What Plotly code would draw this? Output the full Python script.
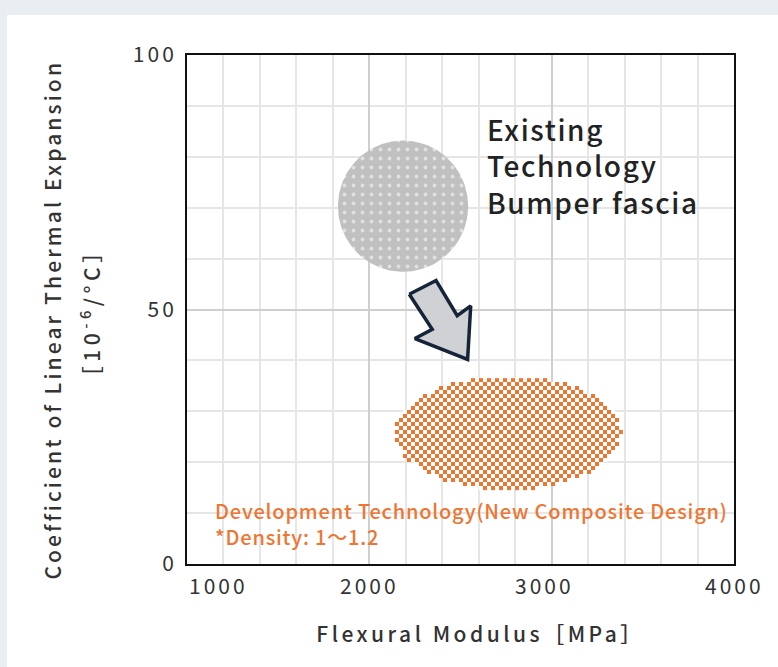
import json
import numpy as np
import plotly.graph_objects as go

# ---------------- data ----------------
x_range = [1000, 4000]
y_range = [0, 100]
x_tick_vals = [1000, 2000, 3000, 4000]
x_tick_text = ["1000", "2000", "3000", "4000"]
y_tick_vals = [0, 50, 100]
y_tick_text = ["0", "50", "100"]

# existing technology region (centre, half-widths)
existing_center = (2185, 70.3)
existing_radius = (357, 12.9)

# development technology region (centre, half-widths)
dev_center = (2760, 25.7)
dev_radius = (620, 11.2)

# arrow outline (MPa, 10^-6/°C)
arrow_x = [2219, 2366, 2482, 2556, 2539, 2250, 2345, 2219]
arrow_y = [53.0, 55.7, 48.8, 50.7, 40.2, 44.3, 46.1, 53.0]

existing_label = "Existing<br>Technology<br>Bumper fascia"
dev_label = "Development Technology(New Composite Design)<br>*Density: 1〜1.2"
x_title = "Flexural Modulus［MPa］"
y_title_1 = "Coefficient of Linear Thermal Expansion"
y_title_2 = "［10<sup>-6</sup>/°C］"

# ---------------- style ----------------
FONT = "Noto Sans CJK JP"
ORANGE = "#ef7532"
GRAY = "#c0c0c0"
TEXT = "#333333"
checker_dx = 21.9   # MPa per checker cell
checker_dy = 0.786  # units per checker cell

fig = go.Figure()

# gray dotted circle
t = np.linspace(0, 2 * np.pi, 181)
fig.add_trace(go.Scatter(
    x=existing_center[0] + existing_radius[0] * np.cos(t),
    y=existing_center[1] + existing_radius[1] * np.sin(t),
    mode="lines", fill="toself", line=dict(width=0, color="rgba(0,0,0,0)"),
    fillcolor=GRAY,
    fillpattern=dict(shape=".", bgcolor=GRAY, fgcolor="#ffffff", size=9, solidity=0.14),
    hoverinfo="skip", showlegend=False))

# orange checkerboard ellipse (heatmap texture)
nx = int(round(2 * dev_radius[0] / checker_dx))
ny = int(round(2 * dev_radius[1] / checker_dy))
xs = dev_center[0] - dev_radius[0] + checker_dx * (np.arange(nx) + 0.5)
ys = dev_center[1] - dev_radius[1] + checker_dy * (np.arange(ny) + 0.5)
XX, YY = np.meshgrid(xs, ys)
II, JJ = np.meshgrid(np.arange(nx), np.arange(ny))
inside = ((XX - dev_center[0]) / dev_radius[0]) ** 2 + ((YY - dev_center[1]) / dev_radius[1]) ** 2 <= 1
z = np.where(inside, ((II + JJ) % 2 == 0).astype(float), np.nan)
fig.add_trace(go.Heatmap(
    x=xs, y=ys, z=z, zmin=0, zmax=1,
    colorscale=[[0, "#ffffff"], [1, ORANGE]],
    showscale=False, hoverinfo="skip", zsmooth=False))

# arrow
fig.add_trace(go.Scatter(
    x=arrow_x, y=arrow_y, mode="lines", fill="toself",
    fillcolor="#cfd1d4", line=dict(color="#16243a", width=3.5),
    hoverinfo="skip", showlegend=False))

annotations = []
spacing = []  # letter spacing (px) per annotation
for v, txt in zip(x_tick_vals, x_tick_text):
    anchor = "left" if v == x_range[0] else "center"
    shift = -7 if v == 3000 else 0
    annotations.append(dict(x=v, y=0, xref="x", yref="paper", text=txt, showarrow=False,
                            xanchor=anchor, align=anchor, yanchor="middle", yshift=-21, xshift=shift,
                            font=dict(family=FONT, size=21, color=TEXT, weight=400)))
    spacing.append(3.0)

annotations += [
    dict(x=2635, y=78.2, xref="x", yref="y", text=existing_label, showarrow=False,
         xanchor="left", yanchor="middle", align="left",
         font=dict(family=FONT, size=28, color="#222222", weight=500)),
    dict(x=1140, y=7.9, xref="x", yref="y", text=dev_label, showarrow=False,
         xanchor="left", yanchor="middle", align="left",
         font=dict(family=FONT, size=20, color=ORANGE, weight=500)),
    dict(x=(480 - 187) / 547, y=(564 - 633) / 509, xref="paper", yref="paper", text=x_title,
         showarrow=False, xanchor="center", yanchor="middle",
         font=dict(family=FONT, size=21, color=TEXT, weight=500)),
    dict(x=(52 - 187) / 547, y=(564 - 320) / 509, xref="paper", yref="paper", text=y_title_1,
         showarrow=False, xanchor="center", yanchor="middle", textangle=-90,
         font=dict(family=FONT, size=21, color=TEXT, weight=500)),
    dict(x=(90 - 187) / 547, y=(564 - 313) / 509, xref="paper", yref="paper", text=y_title_2,
         showarrow=False, xanchor="center", yanchor="middle", textangle=-90,
         font=dict(family=FONT, size=21, color=TEXT, weight=500)),
]
spacing += [1.6, 0.8, 3.5, 3.1, 4.5]

fig.update_layout(
    width=778, height=667,
    margin=dict(l=187, r=44, t=55, b=103),
    paper_bgcolor="#e9eef2", plot_bgcolor="#ffffff",
    showlegend=False,
    annotations=annotations,
    shapes=[dict(type="rect", xref="paper", yref="paper", layer="below",
                 x0=(7 - 187) / 547, x1=1.2, y0=-0.5, y1=(564 - 15) / 509,
                 fillcolor="#ffffff", line=dict(width=0))],
)
fig.update_xaxes(range=x_range, showline=True, linecolor="#111111", linewidth=2, mirror=True,
                 showticklabels=False, ticks="", zeroline=False,
                 tickvals=x_tick_vals, showgrid=True, gridcolor="#cfcfcf", gridwidth=1.5,
                 minor=dict(dtick=200, showgrid=True, gridcolor="#e6e6e6", gridwidth=1.5))
fig.update_yaxes(range=y_range, showline=True, linecolor="#111111", linewidth=2, mirror=True,
                 tickvals=y_tick_vals, ticktext=y_tick_text, ticks="", ticklabelstandoff=4,
                 tickfont=dict(family=FONT, size=21, color=TEXT, weight=400), zeroline=False,
                 showgrid=True, gridcolor="#cfcfcf", gridwidth=1.5,
                 minor=dict(dtick=10, showgrid=True, gridcolor="#e6e6e6", gridwidth=1.5))

post = """
document.body.style.margin = '0';
var gd = document.getElementById('{plot_id}');
var sp = %s;
gd.querySelectorAll('g.annotation').forEach(function(g) {
  var s = sp[parseInt(g.getAttribute('data-index'))];
  if (s !== undefined) {
    g.querySelectorAll('text').forEach(function(t) { t.style.letterSpacing = s + 'px'; });
  }
});
gd.querySelectorAll('g.ytick text').forEach(function(t) { t.style.letterSpacing = '3px'; });
""" % json.dumps(spacing)

fig.write_html("out.html", post_script=post, config={"displayModeBar": False})
